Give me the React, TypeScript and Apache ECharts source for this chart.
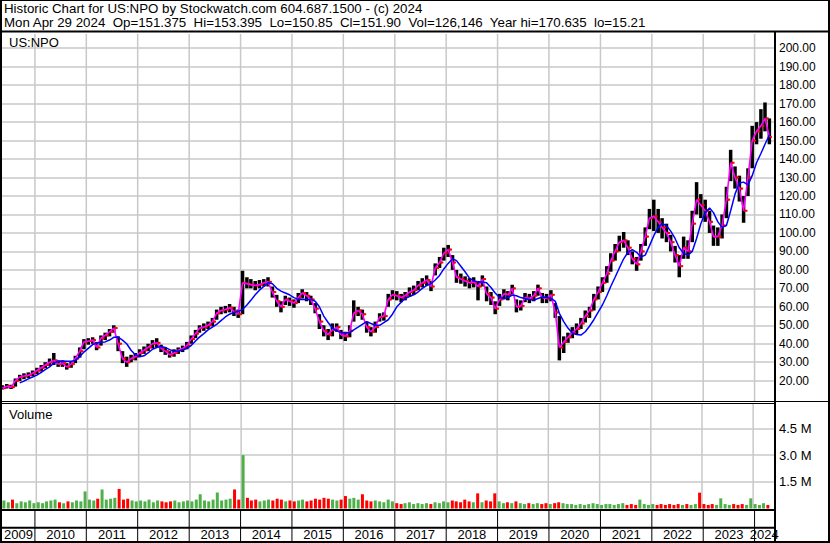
import React, { useEffect, useRef } from "react";
import * as echarts from "echarts";

const FONT = '"Liberation Sans", Arial, sans-serif';

const headerLine1 = "Historic Chart for US:NPO by Stockwatch.com 604.687.1500 - (c) 2024";
const headerLine2 =
  "Mon Apr 29 2024  Op=151.375  Hi=153.395  Lo=150.85  Cl=151.90  Vol=126,146  Year hi=170.635  lo=15.21";
const symbolLabel = "US:NPO";
const volumeLabel = "Volume";

const years = [2009, 2010, 2011, 2012, 2013, 2014, 2015, 2016, 2017, 2018, 2019, 2020, 2021, 2022, 2023, 2024];
// monthly points, first one is May 2009
const firstYear = 2009;
const firstMonth = 4;

const closes = [
  16, 17, 16.5, 20, 22, 22.5, 23, 24,
  25.5, 27, 28.5, 30, 31, 29, 29.5, 27.5, 29, 32, 36, 41,
  41.5, 42, 38, 43, 44.5, 46.5, 48.5, 40, 32, 30, 32, 33,
  35, 36.5, 38, 40, 40.5, 37.5, 36, 34, 35, 36.5, 37.5, 39,
  42.5, 45.5, 48.5, 49, 50, 52, 56.5, 58, 58.5, 59.5, 57.5, 56,
  73, 72.5, 72, 71.5, 72, 73, 73.5, 68, 63, 60, 64, 63,
  62, 65, 67.5, 66, 64, 59, 52, 47, 45, 47.5, 49, 45,
  44, 47, 56.5, 58, 56, 49, 46.5, 49, 54.5, 55, 64, 66.5,
  66, 65, 66, 68, 69, 71.5, 73, 74.5, 71, 81, 84, 89,
  91, 84, 76, 75, 74, 73, 73.5, 71, 75, 67, 65, 59,
  64, 67, 66.5, 70, 60, 60.5, 65, 64.5, 66, 70, 65, 64.5,
  66.5, 57, 38, 41, 43.5, 46, 48, 51, 55, 58, 64, 68,
  73, 78, 85, 90, 95, 96, 92, 86, 83, 90, 98, 108,
  109, 106, 103, 100, 95, 88, 82, 92, 90, 105, 118, 115,
  112, 106, 98, 98, 104, 118, 138, 130, 124, 112, 130, 150,
  155, 158, 162, 152,
];

const lows = [
  15.21, 15.8, 15.5, 16.8, 19.8, 20.8, 21.5, 22.5,
  23.5, 25, 26.8, 28, 28.5, 27.5, 27.5, 26, 27, 29.5, 32.5, 37,
  39.5, 40, 36.5, 39, 42, 44, 46, 36, 29.5, 27.5, 30, 31,
  33, 34.5, 36, 37.5, 38, 35.5, 34, 32.5, 33, 34.5, 35.5, 37,
  40, 43, 46, 47, 48, 49.5, 53, 56, 56.5, 57, 55, 54,
  56, 70, 70, 69, 70, 71, 71, 65, 60, 57, 61, 60.5,
  59.5, 62, 64.5, 63, 61, 56.5, 48, 44, 42, 44, 46.5, 42.5,
  41.5, 43.5, 52, 55, 53, 46, 44, 46, 52, 52.5, 60, 64,
  63.5, 62.5, 63.5, 65.5, 66.5, 69, 70.5, 71.5, 68.5, 77, 81, 85,
  87, 80, 73, 72.5, 71, 70, 70.5, 63.5, 71, 63, 61, 56,
  60.5, 64, 63.5, 67, 57, 58, 62.5, 62, 63, 66, 62, 62,
  63, 54, 31, 35, 40.5, 43, 45, 48, 51.5, 54, 58, 64,
  68, 73, 79, 85, 90, 92, 88, 83, 79.5, 85, 93, 102,
  101, 100, 97, 95, 90, 84, 76, 86, 86, 95, 110, 108,
  106, 100, 93, 93, 97, 108, 128, 124, 117, 105.5, 120, 135,
  148, 151, 155, 148,
];

const highs = [
  17.5, 18.2, 17.8, 21.2, 23.2, 24, 24.5, 25.5,
  27, 28.5, 30, 32, 35, 31, 31, 29.5, 30.5, 33.5, 38, 42.5,
  43, 43.5, 41, 44.5, 46, 48, 50, 44, 36, 33, 34, 35,
  37, 38.5, 40, 42, 43, 39.5, 38, 36, 37, 38, 39, 41,
  44.5, 47.5, 50, 51, 52, 54, 58.5, 60, 60.5, 61.5, 60, 58.5,
  79.5, 76, 75, 74, 74.5, 75, 76, 71, 66.5, 63, 66, 65,
  64, 67.5, 69.5, 68, 66, 62, 56, 50, 48, 51, 51, 47.5,
  46.5, 50, 63.5, 60, 58.5, 52, 49, 52, 56.5, 57, 67, 69,
  68.5, 67, 68, 70.5, 71.5, 74, 75.5, 77, 74, 83.5, 87, 92,
  93.5, 88, 80, 78, 76.5, 75.5, 76, 74, 77, 71, 68, 63,
  67, 69.5, 68.5, 72, 64, 63.5, 67.5, 67, 68.5, 72, 67.5, 67,
  69, 62, 55, 44, 46, 49, 51, 54, 58, 60, 67, 71,
  76, 82, 89, 94, 98.5, 100.5, 96, 90, 87, 94, 103, 113,
  118, 113, 108, 105, 99, 93, 88, 98, 96, 112, 127.5, 121,
  118, 112, 104, 103, 110, 125, 145, 136, 131, 120, 135, 158,
  160, 167, 170.635, 162,
];

// long moving average (blue line)
const longAverage = [
  null, null, null, null, 18.8, 19.8, 21, 22,
  23, 24.5, 26, 27.5, 29.5, 30.5, 30.7, 30.5, 30.5, 31, 33, 35.5,
  37.5, 39.5, 40.4, 40.8, 41, 42, 43.5, 43.6, 42, 40, 36.5, 34,
  33, 33.5, 35, 37, 38, 38.5, 38, 36.8, 36, 36, 36.6, 37.5,
  39, 41.5, 43.6, 45.5, 47.5, 49, 50.5, 52.5, 54.5, 56, 57, 57.5,
  58.5, 61, 63.5, 66.5, 69, 71, 73, 72.5, 70, 68.5, 67.5, 66.5,
  65, 64, 64, 64, 64, 63, 60, 55, 51.5, 48.5, 47, 46,
  46, 46, 47.5, 49, 50.5, 52, 51, 50, 50, 51.5, 53, 56,
  60, 62.5, 64.5, 65.5, 66.5, 68, 70, 71.5, 72.5, 74.5, 77, 80.5,
  83.5, 86, 85, 82, 79, 75.5, 74, 73.5, 73.4, 73, 70.5, 67.5,
  65, 64.5, 65, 66.4, 66, 65, 64.5, 64, 63.6, 64.5, 65.3, 65,
  64.7, 63, 56.5, 52, 48.5, 45.8, 45, 44.7, 46.5, 49.5, 53, 57,
  61, 66, 71, 76, 81, 86, 89.5, 91, 89.5, 87, 88, 93,
  98.5, 103, 105, 104, 101, 97, 92, 89, 88, 90, 97, 105,
  111, 113.5, 111, 106, 103, 104, 112, 121, 127, 127.5, 126, 131,
  138, 143, 148, 153,
];

// volume in millions
const volumes = [
  0.45, 0.35, 0.5, 0.3, 0.4, 0.35, 0.45, 0.3,
  0.35, 0.3, 0.4, 0.45, 0.5, 0.35, 0.3, 0.4, 0.35, 0.45, 0.4, 0.96,
  0.5, 0.45, 0.55, 1.07, 0.5, 0.55, 0.6, 1.1, 0.5, 0.55, 0.45, 0.4,
  0.45, 0.4, 0.5, 0.35, 0.45, 0.4, 0.35, 0.4, 0.45, 0.35, 0.4, 0.45,
  0.4, 0.5, 0.8, 0.45, 0.4, 0.5, 0.9, 0.45, 0.5, 0.55, 1.07, 0.5,
  3.0, 0.6, 0.45, 0.5, 0.4, 0.45, 0.5, 0.45, 0.55, 0.5, 0.4, 0.45,
  0.4, 0.45, 0.5, 0.4, 0.45, 0.55, 0.5, 0.6, 0.55, 0.5, 0.45, 0.5,
  0.7, 0.55, 0.6, 0.5, 0.8, 0.45, 0.4, 0.45, 0.4, 0.35, 0.5, 0.4,
  0.3, 0.25, 0.3, 0.35, 0.25, 0.3, 0.25, 0.3, 0.25, 0.35, 0.3, 0.4,
  0.35, 0.45, 0.4, 0.35, 0.5, 0.4, 0.35, 0.85, 0.35, 0.45, 0.4, 0.85,
  0.4, 0.3, 0.35, 0.3, 0.4, 0.3, 0.25, 0.3, 0.25, 0.3, 0.25, 0.3,
  0.25, 0.3, 0.35, 0.3, 0.25, 0.25, 0.2, 0.25, 0.2, 0.25, 0.3, 0.25,
  0.2, 0.25, 0.25, 0.2, 0.25, 0.3, 0.2, 0.25, 0.2, 0.5, 0.25, 0.2,
  0.25, 0.2, 0.25, 0.2, 0.25, 0.2, 0.25, 0.2, 0.25, 0.2, 0.25, 0.89,
  0.25, 0.2, 0.25, 0.2, 0.57, 0.25, 0.2, 0.25, 0.2, 0.25, 0.2, 0.57,
  0.25, 0.2, 0.3, 0.2,
];

const priceTicks = [20, 30, 40, 50, 60, 70, 80, 90, 100, 110, 120, 130, 140, 150, 160, 170, 180, 190, 200];
const volumeTicks = [1.5, 3.0, 4.5];

const PRICE_MIN = 10;
const PRICE_MAX = 207.7;
const VOL_MAX = 5.93;
const X_MIN = Date.UTC(2009, 4, 12);
const X_MAX = Date.UTC(2024, 4, 18);

const GRID = "#c8c8c8";
const UP = "#4fb04a";
const DOWN = "#ff0000";

const monthTime = (i: number) => Date.UTC(firstYear, firstMonth + i, 15);

function buildOption() {
  const priceData = closes.map((c, i) => [monthTime(i), i === 0 ? c : closes[i - 1], c, lows[i], highs[i]]);
  const shortLine = closes.map((c, i) => [monthTime(i), c]);
  const longLine = longAverage.map((v, i) => [monthTime(i), v == null ? "-" : v]);
  const volData = volumes.map((v, i) => {
    const open = i === 0 ? closes[0] : closes[i - 1];
    return { value: [monthTime(i), v], itemStyle: { color: closes[i] >= open ? UP : DOWN } };
  });
  const yearStarts = years.map((y) => Date.UTC(y, 0, 1)).filter((t) => t > X_MIN);
  const yearCells = years.map((y) => [Date.UTC(y, 0, 1), Date.UTC(y + 1, 0, 1), 0.5, y]);

  const priceLineColors = [PRICE_MIN, ...priceTicks, PRICE_MAX].map((v) =>
    priceTicks.includes(v) ? GRID : "rgba(0,0,0,0)"
  );
  const volLineColors = [0, ...volumeTicks, VOL_MAX].map((v) => (volumeTicks.includes(v) ? GRID : "rgba(0,0,0,0)"));

  const gridLines = (gi: number, extra: number) => ({
    type: "custom",
    xAxisIndex: gi,
    yAxisIndex: gi,
    z: 1,
    silent: true,
    data: yearStarts.map((t) => [t, 0]),
    encode: { x: 0, y: 1 },
    renderItem: (params: any, api: any) => {
      const cs = params.coordSys;
      const x = api.coord([api.value(0), gi === 0 ? PRICE_MIN : 0])[0];
      return {
        type: "line",
        shape: { x1: x, y1: cs.y, x2: x, y2: cs.y + cs.height + extra },
        style: { stroke: GRID, lineWidth: 1.5 },
      };
    },
  });

  const borders: any[] = [
    { type: "rect", shape: { x: 0.5, y: 0.5, width: 829, height: 542 }, style: { fill: "none", stroke: "#000", lineWidth: 1 } },
    { type: "line", shape: { x1: 829, y1: 0, x2: 829, y2: 543 }, style: { stroke: "#000", lineWidth: 2 } },
    { type: "line", shape: { x1: 1, y1: 0, x2: 1, y2: 543 }, style: { stroke: "#000", lineWidth: 2 } },
    { type: "line", shape: { x1: 0, y1: 542, x2: 830, y2: 542 }, style: { stroke: "#000", lineWidth: 2 } },
    { type: "line", shape: { x1: 0, y1: 31.5, x2: 830, y2: 31.5 }, style: { stroke: "#000", lineWidth: 2 } },
    { type: "line", shape: { x1: 775, y1: 31, x2: 775, y2: 542 }, style: { stroke: "#000", lineWidth: 2 } },
    { type: "line", shape: { x1: 0, y1: 401.5, x2: 830, y2: 401.5 }, style: { stroke: "#000", lineWidth: 1 } },
    { type: "line", shape: { x1: 0, y1: 403.5, x2: 775, y2: 403.5 }, style: { stroke: "#000", lineWidth: 1 } },
    { type: "line", shape: { x1: 0, y1: 510, x2: 775, y2: 510 }, style: { stroke: "#000", lineWidth: 2 } },
    { type: "line", shape: { x1: 0, y1: 527.7, x2: 775, y2: 527.7 }, style: { stroke: "#000", lineWidth: 2 } },
  ].map((e) => ({ ...e, z: 100, silent: true }));

  const texts: any[] = [
    { text: headerLine1, x: 4, y: 8.5, size: 13.3 },
    { text: headerLine2, x: 4, y: 22.5, size: 13.3 },
    { text: symbolLabel, x: 9, y: 42, size: 13 },
    { text: volumeLabel, x: 9, y: 414, size: 13 },
  ].map((t) => ({
    type: "text",
    x: t.x,
    y: t.y,
    z: 101,
    silent: true,
    style: {
      text: t.text,
      fill: "#000",
      fontSize: t.size,
      fontFamily: FONT,
      textAlign: "left",
      textVerticalAlign: "middle",
    },
  }));

  return {
    animation: false,
    backgroundColor: "#fff",
    textStyle: { fontFamily: FONT },
    grid: [
      { left: 2, right: 56, top: 34, height: 365.17 },
      { left: 2, right: 56, top: 403, height: 105.5 },
      { left: 2, right: 56, top: 511, height: 30 },
    ],
    xAxis: [0, 1, 2].map((i) => ({ type: "time", gridIndex: i, min: X_MIN, max: X_MAX, show: false })),
    yAxis: [
      {
        type: "value",
        gridIndex: 0,
        position: "right",
        min: PRICE_MIN,
        max: PRICE_MAX,
        interval: 10,
        axisLine: { show: false },
        axisTick: { show: false },
        axisLabel: {
          margin: 5,
          fontSize: 12,
          fontFamily: FONT,
          color: "#000",
          showMinLabel: false,
          showMaxLabel: false,
          formatter: (v: number) => {
            const r = Math.round(v);
            return Math.abs(v - r) < 1e-6 && priceTicks.includes(r) ? r.toFixed(2) : "";
          },
        },
        splitLine: { show: true, lineStyle: { color: priceLineColors, width: 1.5 } },
      },
      {
        type: "value",
        gridIndex: 1,
        position: "right",
        min: 0,
        max: VOL_MAX,
        interval: 1.5,
        axisLine: { show: false },
        axisTick: { show: false },
        axisLabel: {
          margin: 5,
          fontSize: 13,
          fontFamily: FONT,
          color: "#000",
          showMaxLabel: false,
          formatter: (v: number) => (volumeTicks.some((t) => Math.abs(t - v) < 1e-6) ? v.toFixed(1) + " M" : ""),
        },
        splitLine: { show: true, lineStyle: { color: volLineColors, width: 1.5 } },
      },
      { type: "value", gridIndex: 2, min: 0, max: 1, show: false },
    ],
    series: [
      gridLines(0, 2),
      gridLines(1, 0),
      {
        type: "custom",
        name: "price",
        xAxisIndex: 0,
        yAxisIndex: 0,
        z: 2,
        data: priceData,
        encode: { x: 0, y: [1, 2, 3, 4] },
        renderItem: (params: any, api: any) => {
          const t = api.value(0);
          const o = api.coord([t, api.value(1)]);
          const c = api.coord([t, api.value(2)]);
          const lo = api.coord([t, api.value(3)]);
          const hi = api.coord([t, api.value(4)]);
          const x = c[0];
          return {
            type: "group",
            children: [
              {
                type: "rect",
                shape: { x: x - 1.75, y: hi[1], width: 3.5, height: Math.max(1, lo[1] - hi[1]) },
                style: { fill: "#000" },
              },
              { type: "rect", shape: { x: x - 2.5, y: o[1] - 1, width: 2, height: 2 }, style: { fill: DOWN } },
              { type: "rect", shape: { x: x + 0.5, y: c[1] - 1, width: 2, height: 2 }, style: { fill: DOWN } },
            ],
          };
        },
      },
      {
        type: "line",
        name: "short average",
        xAxisIndex: 0,
        yAxisIndex: 0,
        z: 3,
        data: shortLine,
        symbol: "none",
        lineStyle: { color: "#ff00ff", width: 1.6 },
      },
      {
        type: "line",
        name: "long average",
        xAxisIndex: 0,
        yAxisIndex: 0,
        z: 4,
        data: longLine,
        symbol: "none",
        lineStyle: { color: "#0000ff", width: 1.5 },
      },
      {
        type: "bar",
        name: "volume",
        xAxisIndex: 1,
        yAxisIndex: 1,
        z: 2,
        barWidth: 3,
        data: volData,
      },
      {
        type: "custom",
        name: "years",
        xAxisIndex: 2,
        yAxisIndex: 2,
        z: 5,
        silent: true,
        data: yearCells,
        encode: { x: [0, 1], y: 2 },
        renderItem: (params: any, api: any) => {
          const cs = params.coordSys;
          const start = api.value(0);
          const s = Math.max(start, X_MIN);
          const e = Math.min(api.value(1), X_MAX);
          const x0 = api.coord([s, 0.5])[0];
          const x1 = api.coord([e, 0.5])[0];
          const children: any[] = [
            {
              type: "text",
              x: (x0 + x1) / 2,
              y: cs.y + 23.5,
              style: {
                text: String(api.value(3)),
                fill: "#000",
                fontSize: 13,
                fontFamily: FONT,
                textAlign: "center",
                textVerticalAlign: "middle",
              },
            },
          ];
          if (start > X_MIN) {
            children.push({
              type: "line",
              shape: { x1: x0, y1: cs.y, x2: x0, y2: cs.y + cs.height },
              style: { stroke: "#000", lineWidth: 1 },
            });
          }
          return { type: "group", children };
        },
      },
    ],
    graphic: [...borders, ...texts],
  };
}

export default function App() {
  const ref = useRef<HTMLDivElement>(null);
  useEffect(() => {
    document.body.style.margin = "0";
    if (!ref.current) return;
    const chart = echarts.init(ref.current, undefined, { renderer: "svg" });
    chart.setOption(buildOption() as any);
    return () => chart.dispose();
  }, []);
  return <div ref={ref} style={{ width: 830, height: 543 }} />;
}
